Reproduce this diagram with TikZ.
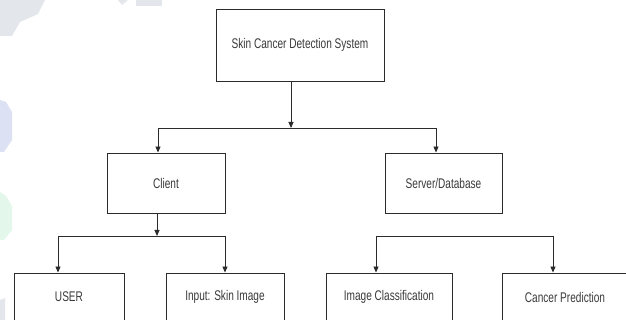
\documentclass[tikz,border=0pt]{standalone}
\usepackage{fontspec}
\setmainfont{Liberation Sans}[FakeStretch=0.72]
\usetikzlibrary{arrows.meta}
\definecolor{ink}{HTML}{2B2B2B}
\definecolor{txt}{HTML}{3A3A3A}
\definecolor{wmblue}{HTML}{DCE2F4}
\definecolor{wmgreen}{HTML}{E3F8EA}
\definecolor{wmgray}{HTML}{E3E7EB}
\tikzset{
  box/.style={draw=ink, line width=0.9pt, fill=white, inner sep=0pt, text=txt,
              font=\fontsize{14}{16}\selectfont},
  link/.style={draw=ink, line width=0.9pt},
  arr/.style={link, -{Triangle[length=6pt,width=5pt]}}
}
\begin{document}
\begin{tikzpicture}[x=1pt,y=-1pt]
\useasboundingbox (0,0) rectangle (626,320);
\fill[white] (0,0) rectangle (626,320);
% faint watermark shapes
\fill[wmgray] (0,0) -- (45,0) -- (38,14) -- (20,22) -- (12,36) -- (0,36) -- cycle;
\fill[wmgray] (136,0) -- (162,0) -- (162,6) -- (136,6) -- cycle;
\fill[wmgray] (118,0) -- (128,0) -- (122,5) -- cycle;
\fill[wmblue] (0,100) -- (6,102) -- (12,112) -- (12,140) -- (4,152) -- (0,152) -- cycle;
\fill[wmgreen] (0,192) -- (6,196) -- (12,206) -- (12,230) -- (4,240) -- (0,240) -- cycle;
\fill[wmgray] (0,300) -- (5,298) -- (5,320) -- (0,320) -- cycle;

% nodes
\node[box, minimum width=168pt, minimum height=72pt] (top) at (300,45) {Skin Cancer Detection System};
\node[box, minimum width=118pt, minimum height=60pt] (client) at (166,183) {Client};
\node[box, minimum width=117pt, minimum height=60pt] (server) at (443.5,183) {Server/Database};
\node[box, minimum width=110pt, minimum height=48pt] (user) at (69,297) {USER};
\node[box, minimum width=118pt, minimum height=48pt] (input) at (225,297) {Input: Skin Image};
\node[box, minimum width=126pt, minimum height=48pt] (imgcls) at (389,297) {Image Classification};
\node[box, minimum width=126pt, minimum height=48pt] (pred) at (565,297) {Cancer Prediction};

% level 1
\coordinate (j1) at (291,128);
\coordinate (l1) at (158,128);
\coordinate (r1) at (436,128);
\draw[arr] (top.south -| j1) -- (j1);
\draw[link] (l1) -- (r1);
\draw[arr] (l1) -- (l1 |- client.north);
\draw[arr] (r1) -- (r1 |- server.north);

% client branch
\coordinate (j2) at (157,236);
\coordinate (l2) at (58,236);
\coordinate (r2) at (225,236);
\draw[arr] (client.south -| j2) -- (j2);
\draw[link] (l2) -- (r2);
\draw[arr] (l2) -- (l2 |- user.north);
\draw[arr] (r2) -- (r2 |- input.north);

% server branch (no stem in the original)
\coordinate (l3) at (376,236);
\coordinate (r3) at (553,236);
\draw[link] (l3) -- (r3);
\draw[arr] (l3) -- (l3 |- imgcls.north);
\draw[arr] (r3) -- (r3 |- pred.north);
\end{tikzpicture}
\end{document}
